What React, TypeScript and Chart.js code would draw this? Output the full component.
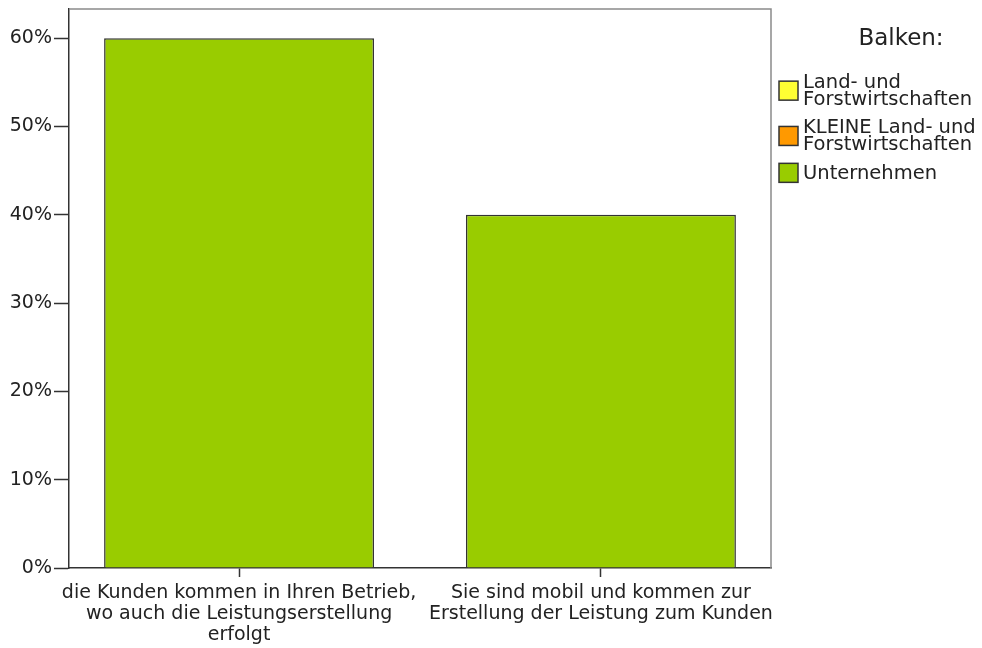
import React, { useEffect, useRef } from 'react';
import { Chart, registerables } from 'chart.js';

Chart.register(...registerables);

// ---- data ----
const categories: string[][] = [
  ['die Kunden kommen in Ihren Betrieb,', 'wo auch die Leistungserstellung', 'erfolgt'],
  ['Sie sind mobil und kommen zur', 'Erstellung der Leistung zum Kunden'],
];
const seriesNames: string[][] = [
  ['Land- und', 'Forstwirtschaften'],
  ['KLEINE Land- und', 'Forstwirtschaften'],
  ['Unternehmen'],
];
const landValues: number[] = [];
const kleineValues: number[] = [];
const unternehmenValues: number[] = [60, 40];
const yTickValues: number[] = [0, 10, 20, 30, 40, 50, 60];
const legendTitle = 'Balken:';
const seriesColors: string[] = ['#FFFF33', '#FF9900', '#99CC00'];

const FONT = 'DejaVu Sans';
const TEXT = '#222222';
const AXIS = '#333333';

const frameAndLegend = {
  id: 'frameAndLegend',
  beforeDatasetsDraw(chart: any) {
    const { ctx, chartArea } = chart;
    ctx.save();
    ctx.strokeStyle = '#8a8a8a';
    ctx.lineWidth = 1.5;
    ctx.beginPath();
    ctx.moveTo(chartArea.left, chartArea.top);
    ctx.lineTo(chartArea.right, chartArea.top);
    ctx.lineTo(chartArea.right, chartArea.bottom);
    ctx.stroke();
    ctx.restore();
  },
  afterDraw(chart: any) {
    const { ctx, chartArea } = chart;
    ctx.save();
    const lx = chartArea.right + 8;
    // title
    ctx.fillStyle = TEXT;
    ctx.font = `23px "${FONT}"`;
    ctx.textAlign = 'center';
    ctx.textBaseline = 'alphabetic';
    ctx.fillText(legendTitle, 901, 45);
    // items
    ctx.font = `19.5px "${FONT}"`;
    ctx.textAlign = 'left';
    const lineH = 16.8;
    const gap = 28.5;
    const cap = 13.5;
    let baseline = 88;
    chart.data.datasets.forEach((ds: any, i: number) => {
      const lines: string[] = seriesNames[i];
      const top = baseline - cap;
      const lastBase = baseline + (lines.length - 1) * lineH;
      const center = (top + lastBase) / 2 + 1;
      const bs = 19;
      ctx.fillStyle = ds.backgroundColor;
      ctx.fillRect(lx, center - bs / 2, bs, bs);
      ctx.strokeStyle = AXIS;
      ctx.lineWidth = 1.5;
      ctx.strokeRect(lx, center - bs / 2, bs, bs);
      ctx.fillStyle = TEXT;
      lines.forEach((t, j) => ctx.fillText(t, lx + 24, baseline + j * lineH));
      baseline = lastBase + gap;
    });
    ctx.restore();
  },
};

export default function App() {
  const ref = useRef<HTMLCanvasElement | null>(null);
  useEffect(() => {
    document.body.style.margin = '0';
    const toPts = (arr: number[]) => arr.map((v, i) => ({ x: i, y: v }));
    const barCommon = {
      grouped: false,
      barPercentage: 0.746,
      categoryPercentage: 1,
      borderColor: AXIS,
      borderWidth: 1.5,
    };
    const chart = new Chart(ref.current as HTMLCanvasElement, {
      type: 'bar',
      data: {
        datasets: [
          { label: seriesNames[0].join(' '), data: toPts(landValues), backgroundColor: seriesColors[0], ...barCommon },
          { label: seriesNames[1].join(' '), data: toPts(kleineValues), backgroundColor: seriesColors[1], ...barCommon },
          { label: seriesNames[2].join(' '), data: toPts(unternehmenValues), backgroundColor: seriesColors[2], ...barCommon },
        ],
      } as any,
      options: {
        animation: false,
        responsive: false,
        maintainAspectRatio: false,
        layout: { padding: { top: 9, right: 211, bottom: 0, left: 0 } },
        plugins: { legend: { display: false }, tooltip: { enabled: false } },
        scales: {
          x: {
            type: 'linear',
            min: -0.47,
            max: 1.47,
            offset: false,
            afterBuildTicks: (s: any) => {
              s.ticks = categories.map((_, i) => ({ value: i }));
            },
            afterFit: (s: any) => {
              s.height = 80;
              s.paddingLeft = 0;
              s.paddingRight = 0;
            },
            grid: { display: true, offset: false, drawOnChartArea: false, drawTicks: true, tickLength: 9, tickColor: AXIS, tickWidth: 1.5 },
            border: { display: true, color: AXIS, width: 1.5 },
            ticks: {
              autoSkip: false,
              maxRotation: 0,
              minRotation: 0,
              padding: 6,
              color: TEXT,
              font: { family: FONT, size: 19, lineHeight: 21 / 19 },
              callback: (v: any) => categories[v as number] ?? '',
            },
          },
          y: {
            type: 'linear',
            min: 0,
            max: 63.3,
            afterBuildTicks: (s: any) => {
              s.ticks = yTickValues.map((v) => ({ value: v }));
            },
            afterFit: (s: any) => {
              s.width = 69;
              s.paddingTop = 0;
              s.paddingBottom = 0;
            },
            grid: { display: true, drawOnChartArea: false, drawTicks: true, tickLength: 15, tickColor: AXIS, tickWidth: 1.5 },
            border: { display: true, color: AXIS, width: 1.5 },
            ticks: {
              padding: 2,
              color: TEXT,
              font: { family: FONT, size: 19 },
              callback: (v: any) => `${v}%`,
            },
          },
        },
      } as any,
      plugins: [frameAndLegend],
    });
    return () => chart.destroy();
  }, []);
  return (
    <div style={{ width: 982, height: 648, background: '#fff' }}>
      <canvas ref={ref} width={982} height={648} style={{ display: 'block' }} />
    </div>
  );
}
